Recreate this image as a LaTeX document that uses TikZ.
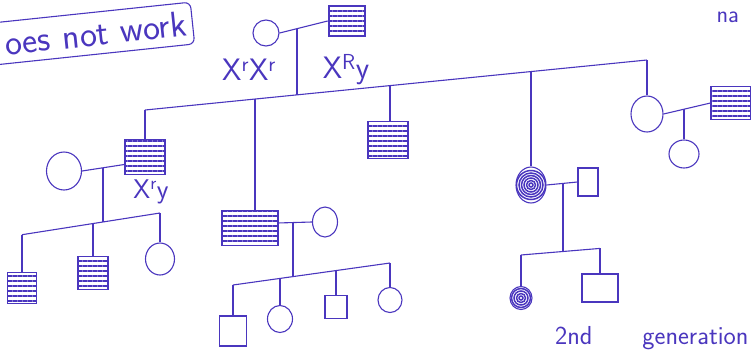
\documentclass[tikz,border=0pt]{standalone}
\usetikzlibrary{shapes.geometric,patterns.meta}
\definecolor{ink}{RGB}{74,54,190}
\begin{document}
\begin{tikzpicture}[x=1pt,y=-1pt,line width=1.1pt,color=ink,
  sz/.style 2 args={minimum width=#1pt,minimum height=#2pt},
  fem/.style={ellipse,draw,inner sep=0pt},
  mal/.style={rectangle,draw,inner sep=0pt},
  affm/.style={mal,pattern={Lines[angle=0,distance=5pt,line width=2.6pt]},pattern color=ink},
  afff/.style={fem,path picture={\foreach \r in {2,4.5,...,#1}
     \draw[line width=1.5pt] (path picture bounding box.center) circle (\r pt);}},
  lbl/.style={font=\fontsize{31}{31}\selectfont\sffamily,inner sep=0pt},
  note/.style={font=\fontsize{36}{36}\selectfont\sffamily}]
\useasboundingbox (0,0) rectangle (751,351);

% notes
\node[note,draw,rotate=6,rounded corners=6pt,anchor=east,minimum height=42pt,
  inner xsep=6pt,inner ysep=2pt,align=right,text width=200pt] (box) at (193,23) {oes not work};
\node[note,anchor=base west,inner sep=0pt,font=\fontsize{24}{24}\selectfont\sffamily] (na) at (716,22) {na};
\node[note,anchor=base east,inner sep=0pt,font=\fontsize{26}{26}\selectfont\sffamily] (gen) at (749,344) {2nd\hspace{50pt}generation};

% generation I
\node[fem,sz={26}{26}] (gm) at (266,33) {};
\node[affm,sz={36}{30}] (gf) at (347,21) {};
\draw (gm.east) -- (gf.west);
\coordinate (d1) at (297,28.7);
\coordinate (s1a) at (145,110);
\coordinate (s1b) at (647,60);
\coordinate (d1b) at (297,94.9);
\draw (s1a) -- (s1b);
\draw (d1) -- (d1b);
\node[lbl] (l1) at (249,70) {X\textsuperscript{r}X\textsuperscript{r}};
\node[lbl] (l2) at (346,70) {X\textsuperscript{R}y};

% children of generation I
\coordinate (j2) at (255,99);
\coordinate (j3) at (390,85.6);
\coordinate (j4) at (531,71.6);

% family 1
\node[affm,sz={40}{35}] (m1) at (145,157) {};
\node[fem,sz={35}{38}] (w1) at (64,171) {};
\draw (s1a) -- (m1.north);
\draw (w1.east) -- (m1.200);
\node[lbl,font=\fontsize{27}{27}\selectfont\sffamily] (l3) at (151,192) {X\textsuperscript{r}y};
\coordinate (d2) at (103,167.7);
\coordinate (d2b) at (103,222);
\coordinate (s2a) at (22,234.7);
\coordinate (s2b) at (160,213);
\draw (d2) -- (d2b);
\draw (s2a) -- (s2b);
\coordinate (j2b) at (93,223.5);
\node[affm,sz={29}{31}] (c1a) at (22,288) {};
\node[affm,sz={30}{33}] (c1b) at (93,273) {};
\node[fem,sz={29}{32}] (c1c) at (160,259) {};
\draw (s2a) -- (c1a.north);
\draw (j2b) -- (c1b.north);
\draw (s2b) -- (c1c.north);

% family 2
\node[affm,sz={56}{35}] (m2) at (250,228) {};
\node[fem,sz={25}{30}] (w2) at (325,222) {};
\draw (j2) -- (j2 |- m2.north);
\draw (m2.10) -- (w2.west);
\coordinate (d3) at (293,222.5);
\coordinate (d3b) at (293,276.6);
\coordinate (s3a) at (233,285);
\coordinate (s3b) at (390,263);
\draw (d3) -- (d3b);
\draw (s3a) -- (s3b);
\coordinate (j3b) at (280,278.4);
\coordinate (j3c) at (336,270.6);
\node[mal,sz={27}{30}] (c2a) at (233,331) {};
\node[fem,sz={25}{27}] (c2b) at (280,319) {};
\node[mal,sz={22}{23}] (c2c) at (336,307) {};
\node[fem,sz={24}{25}] (c2d) at (390,300) {};
\draw (s3a) -- (c2a.north);
\draw (j3b) -- (c2b.north);
\draw (j3c) -- (c2c.north);
\draw (s3b) -- (c2d.north);

% child 3
\node[affm,sz={40}{37}] (m3) at (388,140) {};
\draw (j3) -- (j3 |- m3.north);

% family 4
\node[afff=15,sz={30}{36}] (f4) at (531,185) {};
\node[mal,sz={20}{28}] (h4) at (588,182) {};
\draw (j4) -- (f4.north);
\draw (f4.east) -- (h4.west);
\coordinate (d4) at (563,183.3);
\coordinate (d4b) at (563,251.5);
\coordinate (s4a) at (521,255);
\coordinate (s4b) at (600,248.4);
\draw (d4) -- (d4b);
\draw (s4a) -- (s4b);
\node[afff=10,sz={22}{23}] (c4a) at (521,298) {};
\node[mal,sz={36}{28}] (c4b) at (600,288) {};
\draw (s4a) -- (c4a.north);
\draw (s4b) -- (c4b.north);

% family 5
\node[fem,sz={32}{36}] (f5) at (647,114) {};
\node[affm,sz={40}{33}] (h5) at (731,103) {};
\draw (s1b) -- (f5.north);
\draw (f5.east) -- (h5.west);
\coordinate (d5) at (684,108.5);
\node[fem,sz={30}{28}] (c5) at (684,154) {};
\draw (d5) -- (c5.north);
\end{tikzpicture}
\end{document}
